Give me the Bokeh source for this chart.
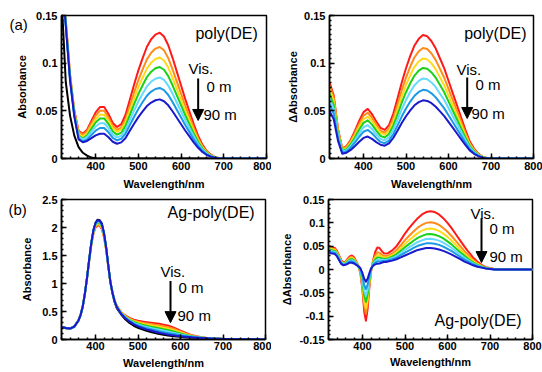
from bokeh.plotting import figure
from bokeh.layouts import column, row
from bokeh.models import Range1d, FixedTicker, Label, Arrow, NormalHead
from bokeh.embed import file_html
from bokeh.resources import INLINE
import numpy as np

FONT = "Liberation Sans"
COLORS = ["#ff1a1a", "#ff8c1a", "#ffd91a", "#1ad11a", "#66d9ff", "#1a9ae6", "#1a1acc"]

# ---------------- data ----------------
X_TICKS = [400, 500, 600, 700, 800]
Y12_TICKS = [0, 0.05, 0.1, 0.15]
Y12_LABELS = ["0", "0.05", "0.1", "0.15"]
Y3_TICKS = [0, 0.5, 1, 1.5, 2, 2.5]
Y3_LABELS = ["0", "0.5", "1", "1.5", "2", "2.5"]
Y4_TICKS = [-0.15, -0.1, -0.05, 0, 0.05, 0.1, 0.15]
Y4_LABELS = ["-0.15", "-0.1", "-0.05", "0", "0.05", "0.1", "0.15"]

W12 = [320, 330, 340, 350, 360, 370, 380, 390, 400, 410, 420, 430, 440, 450, 460, 470, 480, 490, 500, 510,
       520, 530, 540, 550, 560, 570, 580, 590, 600, 610, 620, 630, 640, 650, 660, 670, 680, 690, 700, 750, 800]

# (a) left: poly(DE) absorbance, 0 m (red) -> 90 m (blue), black = reference
A1_BLACK = [0.170, 0.080, 0.045, 0.024, 0.012, 0.006, 0.003, 0.001] + [0] * 33
A1_RED = [0.200, 0.145, 0.088, 0.050, 0.029, 0.026, 0.0302, 0.0394, 0.0484, 0.054, 0.054, 0.0467, 0.0372, 0.033,
          0.036, 0.0459, 0.0617, 0.0776, 0.0924, 0.1053, 0.1172, 0.1251, 0.130, 0.132, 0.128, 0.1188, 0.1056,
          0.0911, 0.0766, 0.062, 0.0488, 0.0356, 0.0238, 0.0145, 0.0079, 0.004, 0.0013, 0.0004, 0, 0, 0]
A1_ORANGE = [0.200, 0.144, 0.087, 0.049, 0.028, 0.025, 0.0288, 0.037, 0.045, 0.050, 0.050, 0.043, 0.034, 0.030,
             0.0326, 0.0413, 0.0552, 0.0692, 0.0822, 0.0935, 0.104, 0.1109, 0.1153, 0.117, 0.1135, 0.1053, 0.0936,
             0.0807, 0.0679, 0.055, 0.0433, 0.0316, 0.0211, 0.0129, 0.007, 0.0035, 0.0012, 0.0004, 0, 0, 0]
A1_YELLOW = [0.200, 0.143, 0.086, 0.048, 0.026, 0.023, 0.0265, 0.034, 0.0414, 0.046, 0.046, 0.0397, 0.0316, 0.028,
             0.0303, 0.0381, 0.0506, 0.0631, 0.0748, 0.0849, 0.0943, 0.1005, 0.1044, 0.106, 0.1028, 0.0954, 0.0848,
             0.0731, 0.0615, 0.0498, 0.0392, 0.0286, 0.0191, 0.0117, 0.0064, 0.0032, 0.0011, 0.0003, 0, 0, 0]
A1_GREEN = [0.200, 0.142, 0.085, 0.047, 0.024, 0.021, 0.0242, 0.0311, 0.0378, 0.042, 0.042, 0.0361, 0.0284, 0.025,
            0.0271, 0.0342, 0.0456, 0.057, 0.0676, 0.0768, 0.0854, 0.091, 0.0946, 0.096, 0.0931, 0.0864, 0.0768,
            0.0662, 0.0557, 0.0451, 0.0355, 0.0259, 0.0173, 0.0106, 0.0058, 0.0029, 0.001, 0.0003, 0, 0, 0]
A1_LCYAN = [0.200, 0.141, 0.084, 0.046, 0.023, 0.020, 0.0226, 0.0282, 0.0336, 0.037, 0.037, 0.0318, 0.025, 0.022,
            0.0239, 0.0302, 0.0403, 0.0504, 0.0598, 0.068, 0.0756, 0.0806, 0.0837, 0.085, 0.0825, 0.0765, 0.068,
            0.0587, 0.0493, 0.04, 0.0315, 0.023, 0.0153, 0.0094, 0.0051, 0.0026, 0.0009, 0.0003, 0, 0, 0]
A1_AZURE = [0.200, 0.140, 0.083, 0.045, 0.021, 0.018, 0.0201, 0.0247, 0.0292, 0.032, 0.032, 0.0275, 0.0216, 0.019,
            0.0207, 0.0262, 0.035, 0.0438, 0.052, 0.0592, 0.0658, 0.0702, 0.0729, 0.074, 0.0718, 0.0666, 0.0592,
            0.0511, 0.0429, 0.0348, 0.0274, 0.02, 0.0133, 0.0081, 0.0044, 0.0022, 0.0007, 0.0002, 0, 0, 0]
A1_BLUE = [0.200, 0.139, 0.082, 0.044, 0.020, 0.017, 0.0184, 0.0213, 0.0242, 0.026, 0.026, 0.0223, 0.0176, 0.0155,
           0.0169, 0.0215, 0.029, 0.0364, 0.0434, 0.0494, 0.055, 0.0587, 0.0611, 0.062, 0.0601, 0.0558, 0.0496,
           0.0428, 0.036, 0.0291, 0.0229, 0.0167, 0.0112, 0.0068, 0.0037, 0.0019, 0.0006, 0.0002, 0, 0, 0]

# (a) right: poly(DE) delta absorbance
A2_RED = [0.080, 0.066, 0.031, 0.0106, 0.0131, 0.0197, 0.0292, 0.0396, 0.0487, 0.052, 0.0465, 0.0388, 0.0322, 0.030,
          0.035, 0.0469, 0.0628, 0.0798, 0.0947, 0.1076, 0.1186, 0.1255, 0.1295, 0.1282, 0.123, 0.1153, 0.1049,
          0.0945, 0.0816, 0.0686, 0.0557, 0.0427, 0.0298, 0.0181, 0.0104, 0.0052, 0.0019, 0.0006, 0, 0, 0]
A2_ORANGE = [0.077, 0.0636, 0.0301, 0.010, 0.0123, 0.0184, 0.0271, 0.0366, 0.045, 0.048, 0.0428, 0.0354, 0.0291,
             0.027, 0.0315, 0.0421, 0.0564, 0.0715, 0.0849, 0.0964, 0.1062, 0.1124, 0.116, 0.1148, 0.1102, 0.1032,
             0.094, 0.0847, 0.0731, 0.0615, 0.0499, 0.0383, 0.0267, 0.0162, 0.0093, 0.0046, 0.0017, 0.0006, 0, 0, 0]
A2_YELLOW = [0.073, 0.0602, 0.0282, 0.009, 0.0111, 0.0167, 0.0248, 0.0335, 0.0412, 0.044, 0.0393, 0.0326, 0.0269,
             0.025, 0.029, 0.0386, 0.0514, 0.065, 0.077, 0.0874, 0.0962, 0.1018, 0.105, 0.104, 0.0998, 0.0935,
             0.0851, 0.0767, 0.0662, 0.0557, 0.0452, 0.0347, 0.0242, 0.0147, 0.0084, 0.0042, 0.0016, 0.0005, 0, 0, 0]
A2_GREEN = [0.068, 0.056, 0.026, 0.008, 0.0099, 0.015, 0.0224, 0.0304, 0.0374, 0.040, 0.0355, 0.0292, 0.0238, 0.022,
            0.0257, 0.0344, 0.0461, 0.0585, 0.0695, 0.0789, 0.087, 0.0921, 0.095, 0.0941, 0.0903, 0.0846, 0.077,
            0.0694, 0.0599, 0.0504, 0.0409, 0.0314, 0.0219, 0.0133, 0.0076, 0.0038, 0.0014, 0.0005, 0, 0, 0]
A2_LCYAN = [0.063, 0.0518, 0.0238, 0.007, 0.0087, 0.0132, 0.0196, 0.0266, 0.0328, 0.035, 0.031, 0.0254, 0.0206,
            0.019, 0.0223, 0.0301, 0.0405, 0.0515, 0.0613, 0.0697, 0.0769, 0.0814, 0.084, 0.0832, 0.0798, 0.0748,
            0.068, 0.0613, 0.0529, 0.0445, 0.0361, 0.0277, 0.0193, 0.0118, 0.0067, 0.0034, 0.0013, 0.0004, 0, 0, 0]
A2_AZURE = [0.057, 0.0468, 0.0213, 0.006, 0.0074, 0.0113, 0.0168, 0.0228, 0.0281, 0.030, 0.0265, 0.0216, 0.0174,
            0.016, 0.0188, 0.0255, 0.0345, 0.044, 0.0524, 0.0597, 0.0658, 0.0698, 0.072, 0.0713, 0.0684, 0.0641,
            0.0583, 0.0526, 0.0454, 0.0382, 0.031, 0.0238, 0.0166, 0.0101, 0.0058, 0.0029, 0.0011, 0.0004, 0, 0, 0]
A2_BLUE = [0.050, 0.041, 0.0185, 0.005, 0.0061, 0.009, 0.0131, 0.0176, 0.0216, 0.023, 0.0206, 0.0172, 0.0144,
           0.0134, 0.0158, 0.0215, 0.0291, 0.0372, 0.0443, 0.0505, 0.0558, 0.0591, 0.061, 0.0604, 0.058, 0.0543,
           0.0494, 0.0445, 0.0384, 0.0323, 0.0262, 0.0201, 0.014, 0.0085, 0.0049, 0.0024, 0.0009, 0.0003, 0, 0, 0]

# (b) left: Ag-poly(DE) absorbance
W3 = [320, 330, 340, 350, 360, 365, 370, 375, 380, 385, 390, 395, 400, 405, 410, 415, 420, 425, 430, 435, 440, 445,
      450, 460, 470, 480, 490, 500, 510, 520, 530, 540, 550, 560, 570, 580, 590, 600, 610, 620, 630, 640, 650,
      660, 670, 680, 690, 700, 750, 800]
B1_BLACK = [0.22, 0.20, 0.19, 0.225, 0.335, 0.435, 0.585, 0.815, 1.095, 1.415, 1.715, 1.945, 2.085, 2.14, 2.13, 2.07,
            1.90, 1.645, 1.32, 1.02, 0.82, 0.665, 0.56,
            0.45, 0.36, 0.295, 0.245, 0.21, 0.18, 0.155, 0.135, 0.115, 0.098, 0.085, 0.073, 0.063, 0.055, 0.048,
            0.042, 0.037, 0.032, 0.028, 0.024, 0.02, 0.017, 0.014, 0.012, 0.01, 0.005, 0.002]
B1_RED = [0.23, 0.21, 0.20, 0.235, 0.345, 0.445, 0.595, 0.82, 1.09, 1.40, 1.68, 1.89, 2.00, 2.04, 2.03, 1.97, 1.83,
          1.60, 1.31, 1.03, 0.84, 0.70, 0.60,
          0.49, 0.43, 0.385, 0.355, 0.335, 0.32, 0.31, 0.30, 0.29, 0.28, 0.265, 0.25, 0.225, 0.195, 0.16, 0.125,
          0.095, 0.07, 0.052, 0.04, 0.03, 0.023, 0.018, 0.014, 0.011, 0.005, 0.002]
B1_ORANGE = [0.229, 0.209, 0.199, 0.234, 0.344, 0.444, 0.594, 0.82, 1.092, 1.404, 1.688, 1.90, 2.015, 2.055, 2.045,
             1.985, 1.84, 1.61, 1.314, 1.03, 0.838, 0.697, 0.597,
             0.485, 0.42, 0.374, 0.341, 0.318, 0.30, 0.288, 0.276, 0.265, 0.253, 0.238, 0.223, 0.20, 0.173, 0.143,
             0.112, 0.086, 0.064, 0.049, 0.038, 0.029, 0.022, 0.0175, 0.0137, 0.0108, 0.005, 0.002]
B1_YELLOW = [0.228, 0.208, 0.198, 0.233, 0.343, 0.443, 0.593, 0.82, 1.094, 1.408, 1.696, 1.91, 2.03, 2.07, 2.06,
             2.00, 1.85, 1.62, 1.318, 1.03, 0.836, 0.693, 0.593,
             0.48, 0.4135, 0.3636, 0.327, 0.302, 0.282, 0.267, 0.254, 0.24, 0.227, 0.212, 0.197, 0.176, 0.153,
             0.126, 0.10, 0.078, 0.059, 0.045, 0.036, 0.027, 0.021, 0.017, 0.013, 0.0107, 0.005, 0.002]
B1_GREEN = [0.227, 0.207, 0.197, 0.232, 0.342, 0.442, 0.592, 0.82, 1.096, 1.412, 1.70, 1.925, 2.045, 2.09, 2.08,
            2.02, 1.865, 1.63, 1.322, 1.03, 0.834, 0.689, 0.589,
            0.475, 0.405, 0.3525, 0.3125, 0.285, 0.2625, 0.245, 0.23, 0.215, 0.20, 0.185, 0.17, 0.1515, 0.131,
            0.109, 0.0875, 0.069, 0.0535, 0.042, 0.0335, 0.026, 0.0205, 0.0165, 0.013, 0.0105, 0.005, 0.002]
B1_LCYAN = [0.226, 0.206, 0.196, 0.231, 0.341, 0.441, 0.591, 0.82, 1.098, 1.416, 1.71, 1.935, 2.06, 2.105, 2.095,
            2.035, 1.875, 1.635, 1.326, 1.03, 0.832, 0.686, 0.586,
            0.47, 0.3965, 0.3415, 0.298, 0.268, 0.243, 0.223, 0.206, 0.1895, 0.173, 0.158, 0.143, 0.1265, 0.109,
            0.0917, 0.0748, 0.0602, 0.0479, 0.0386, 0.0313, 0.0246, 0.0197, 0.016, 0.0127, 0.0103, 0.005, 0.002]
B1_AZURE = [0.2255, 0.2055, 0.1955, 0.2305, 0.3405, 0.4405, 0.5905, 0.82, 1.099, 1.418, 1.715, 1.942, 2.07, 2.118,
            2.108, 2.048, 1.888, 1.643, 1.328, 1.03, 0.831, 0.683, 0.583,
            0.465, 0.3885, 0.331, 0.2845, 0.252, 0.2245, 0.202, 0.184, 0.1655, 0.147, 0.132, 0.117, 0.103, 0.0888,
            0.0753, 0.0628, 0.0518, 0.0426, 0.0354, 0.0292, 0.0234, 0.0189, 0.0155, 0.0123, 0.0102, 0.005, 0.002]
B1_BLUE = [0.225, 0.205, 0.195, 0.23, 0.34, 0.44, 0.59, 0.82, 1.10, 1.42, 1.72, 1.95, 2.08, 2.13, 2.12, 2.06, 1.90,
           1.65, 1.33, 1.03, 0.83, 0.68, 0.58,
           0.46, 0.38, 0.32, 0.27, 0.235, 0.205, 0.18, 0.16, 0.14, 0.12, 0.105, 0.09, 0.078, 0.067, 0.058, 0.05,
           0.043, 0.037, 0.032, 0.027, 0.022, 0.018, 0.015, 0.012, 0.01, 0.005, 0.002]

# (b) right: Ag-poly(DE) delta absorbance
W4 = [320, 325, 330, 335, 340, 345, 350, 355, 360, 365, 370, 375, 380, 385, 390, 395, 400, 404, 408, 412, 416, 420,
      425, 430, 435, 440, 445, 450, 455, 460, 470, 480, 490, 500, 510, 520, 530, 540, 550, 560, 570, 580, 590, 600,
      610, 620, 630, 640, 650, 660, 670, 680, 690, 700, 710, 720, 730, 750, 800]
B2_RED = [0.051, 0.049, 0.047, 0.046, 0.040, 0.030, 0.020, 0.0146, 0.017, 0.023, 0.028, 0.030, 0.026, 0.018, 0.008,
          -0.008, -0.045, -0.090, -0.110, -0.085, -0.040, -0.005,
          0.020, 0.038, 0.047, 0.046, 0.040, 0.035, 0.034, 0.035,
          0.041, 0.050, 0.063, 0.077, 0.089, 0.100, 0.110, 0.118, 0.123, 0.125,
          0.123, 0.118, 0.110, 0.100, 0.088, 0.075, 0.062, 0.049, 0.037, 0.026,
          0.017, 0.010, 0.005, 0.003, 0.001, 0.0005, 0.0, 0, 0]
B2_ORANGE = [0.0485, 0.0465, 0.0447, 0.0437, 0.0378, 0.0282, 0.0186, 0.0136, 0.0157, 0.021, 0.0256, 0.0272, 0.0237,
             0.0166, 0.0078, -0.006, -0.0383, -0.0774, -0.0949, -0.0733, -0.0342, -0.0037,
             0.0178, 0.0299, 0.0367, 0.0361, 0.0324, 0.0293, 0.0286, 0.0296,
             0.0344, 0.0416, 0.0519, 0.0629, 0.0725, 0.0814, 0.0896, 0.0958, 0.0999, 0.1013,
             0.0996, 0.0955, 0.089, 0.0808, 0.0712, 0.0606, 0.050, 0.0394, 0.0298, 0.0209,
             0.0137, 0.0082, 0.0041, 0.0024, 0.0007, 0.0004, 0, 0, 0]
B2_YELLOW = [0.0465, 0.0445, 0.0428, 0.0418, 0.0362, 0.0268, 0.0174, 0.0128, 0.0148, 0.0195, 0.0237, 0.0251, 0.0218,
             0.0154, 0.0077, -0.0045, -0.0332, -0.0676, -0.0831, -0.0642, -0.0298, -0.0028,
             0.0162, 0.0253, 0.0308, 0.0305, 0.028, 0.0261, 0.0255, 0.0265,
             0.0307, 0.0368, 0.0456, 0.0549, 0.0632, 0.0709, 0.078, 0.0832, 0.0868, 0.0879,
             0.0863, 0.0828, 0.0771, 0.0699, 0.0617, 0.0524, 0.0432, 0.034, 0.0257, 0.018,
             0.0118, 0.0072, 0.0036, 0.0021, 0.0005, 0.0003, 0, 0, 0]
B2_GREEN = [0.0443, 0.0423, 0.0408, 0.0398, 0.0342, 0.0252, 0.0162, 0.0119, 0.0136, 0.0177, 0.0215, 0.0226, 0.0198,
            0.0142, 0.0075, -0.0027, -0.0272, -0.0564, -0.0697, -0.0538, -0.0246, -0.0016,
            0.0142, 0.0213, 0.0256, 0.0255, 0.0242, 0.0232, 0.0228, 0.0238,
            0.0274, 0.0326, 0.0401, 0.0479, 0.0549, 0.0616, 0.0678, 0.0721, 0.0753, 0.076,
            0.0746, 0.0715, 0.0666, 0.0603, 0.0533, 0.0452, 0.0372, 0.0292, 0.0221, 0.0155,
            0.0102, 0.0063, 0.0031, 0.0018, 0.0004, 0.0002, 0, 0, 0]
B2_LCYAN = [0.042, 0.040, 0.0387, 0.0377, 0.0323, 0.0236, 0.0149, 0.011, 0.0125, 0.016, 0.0194, 0.0201, 0.0177,
            0.0129, 0.0074, -0.001, -0.0213, -0.0452, -0.0562, -0.0434, -0.0195, -0.0005,
            0.0123, 0.0178, 0.0211, 0.0213, 0.0209, 0.0208, 0.0205, 0.0215,
            0.0245, 0.029, 0.0353, 0.0418, 0.0478, 0.0535, 0.059, 0.0625, 0.0653, 0.0658,
            0.0645, 0.0618, 0.0575, 0.052, 0.046, 0.039, 0.032, 0.025, 0.019, 0.0133,
            0.0088, 0.0055, 0.0028, 0.0015, 0.0003, 0.0001, 0, 0, 0]
B2_AZURE = [0.0397, 0.0377, 0.0365, 0.0355, 0.0303, 0.0219, 0.0135, 0.0101, 0.0113, 0.0141, 0.0171, 0.0175, 0.0155,
            0.0115, 0.0072, 0.0009, -0.015, -0.0333, -0.042, -0.0324, -0.0141, 0.0007,
            0.0103, 0.0145, 0.017, 0.0173, 0.0178, 0.0185, 0.0183, 0.0193,
            0.0219, 0.0256, 0.0308, 0.0361, 0.0412, 0.0461, 0.0508, 0.0536, 0.056, 0.0563,
            0.0551, 0.0528, 0.0491, 0.0443, 0.0393, 0.0332, 0.0272, 0.0212, 0.0161, 0.0112,
            0.0074, 0.0048, 0.0024, 0.0013, 0.0001, 0.0, 0, 0, 0]
B2_BLUE = [0.037, 0.035, 0.034, 0.033, 0.028, 0.020, 0.012, 0.009, 0.010, 0.012, 0.0145, 0.0146, 0.013, 0.010, 0.007,
           0.003, -0.008, -0.020, -0.026, -0.020, -0.008, 0.002,
           0.008, 0.011, 0.0125, 0.013, 0.0145, 0.016, 0.016, 0.017,
           0.019, 0.022, 0.026, 0.030, 0.034, 0.038, 0.042, 0.044, 0.046, 0.046,
           0.045, 0.043, 0.040, 0.036, 0.032, 0.027, 0.022, 0.017, 0.013, 0.009,
           0.006, 0.004, 0.002, 0.001, 0.0, 0.0, 0.0, 0, 0]


# ---------------- helpers ----------------
def make_fig(height, ml, mr, mt, mb, y_rng, yticks, ylabels, yminor_step, ylabel,
             ylab_standoff, xlab_standoff, xtick_standoff):
    p = figure(width=271, height=height, x_range=Range1d(320, 800), y_range=Range1d(*y_rng),
               output_backend="svg", toolbar_location=None,
               min_border_left=ml, min_border_right=mr, min_border_top=mt, min_border_bottom=mb)
    p.xgrid.visible = False
    p.ygrid.visible = False
    p.outline_line_color = "black"
    p.outline_line_width = 1.5
    p.background_fill_color = "white"
    p.border_fill_color = "white"
    xa, ya = p.xaxis[0], p.yaxis[0]
    xa.ticker = FixedTicker(ticks=X_TICKS, minor_ticks=list(np.arange(320, 801, 20)))
    ya.ticker = FixedTicker(ticks=yticks,
                            minor_ticks=list(np.round(np.arange(y_rng[0], y_rng[1] + 1e-9, yminor_step), 6)))
    ya.major_label_overrides = dict(zip(yticks, ylabels))
    xa.axis_label = "Wavelength/nm"
    ya.axis_label = ylabel
    for ax in (xa, ya):
        ax.axis_line_width = 1.5
        ax.axis_line_color = "black"
        ax.major_tick_in = 5
        ax.major_tick_out = 0
        ax.minor_tick_in = 2
        ax.minor_tick_out = 0
        ax.major_tick_line_width = 1.5
        ax.minor_tick_line_width = 1.5
        ax.major_tick_line_color = "black"
        ax.minor_tick_line_color = "black"
        ax.major_label_text_font = FONT
        ax.major_label_text_font_size = "11px"
        ax.major_label_text_font_style = "bold"
        ax.major_label_text_color = "black"
        ax.axis_label_text_font = FONT
        ax.axis_label_text_font_size = "11px"
        ax.axis_label_text_font_style = "bold"
        ax.axis_label_text_color = "black"
    ya.major_label_standoff = 4
    ya.axis_label_standoff = ylab_standoff
    xa.major_label_standoff = xtick_standoff
    xa.axis_label_standoff = xlab_standoff
    return p


def add_text(p, x, y, text, size):
    p.add_layout(Label(x=x, y=y, text=text, text_font=FONT, text_font_size=size,
                       text_baseline="middle", text_align="left", text_color="black"))


def set_panel_tag(p, text, offset, standoff):
    # panel tag drawn through the (otherwise empty) title, pulled beside the frame's top-left corner
    p.title.text = text
    p.title.align = "left"
    p.title.vertical_align = "bottom"
    p.title.offset = offset
    p.title.standoff = standoff
    p.title.text_font = FONT
    p.title.text_font_size = "15px"
    p.title.text_font_style = "normal"
    p.title.text_color = "black"


def add_arrow(p, x, y0, y1):
    p.add_layout(Arrow(end=NormalHead(size=11, fill_color="black", line_color="black", line_width=1),
                       x_start=x, y_start=y0, x_end=x, y_end=y1, line_width=2, line_color="black"))


def add_annotations(p, title_xy, title, vis_xy, m0_xy, m90_xy, arrow_xy):
    add_text(p, title_xy[0], title_xy[1], title, "16px")
    add_text(p, vis_xy[0], vis_xy[1], "Vis.", "15px")
    add_text(p, m0_xy[0], m0_xy[1], "0 m", "15px")
    add_text(p, m90_xy[0], m90_xy[1], "90 m", "15px")
    add_arrow(p, *arrow_xy)


# ---------------- panel (a) left ----------------
p1 = make_fig(192, 61, 5, 15, 34, (0, 0.15), Y12_TICKS, Y12_LABELS, 0.005, "Absorbance", 5, 5, 3)
p1.line(W12, A1_BLACK, line_color="black", line_width=2)
for ys, c in zip([A1_RED, A1_ORANGE, A1_YELLOW, A1_GREEN, A1_LCYAN, A1_AZURE, A1_BLUE], COLORS):
    p1.line(W12, ys, line_color=c, line_width=2, line_join="round")
add_annotations(p1, (633.7, 0.1311), "poly(DE)", (617.4, 0.0944), (659.5, 0.0755), (652.5, 0.0462),
                (640, 0.0839, 0.0399))
set_panel_tag(p1, "(a)", -52, -35)

# ---------------- panel (a) right ----------------
p2 = make_fig(192, 58, 9, 15, 34, (0, 0.15), Y12_TICKS, Y12_LABELS, 0.005, "ΔAbsorbance", 2, 5, 3)
for ys, c in zip([A2_RED, A2_ORANGE, A2_YELLOW, A2_GREEN, A2_LCYAN, A2_AZURE, A2_BLUE], COLORS):
    p2.line(W12, ys, line_color=c, line_width=2, line_join="round")
add_annotations(p2, (637, 0.131), "poly(DE)", (618.8, 0.0934), (663.5, 0.0776), (654, 0.0472),
                (644, 0.085, 0.042))

# ---------------- panel (b) left ----------------
p3 = make_fig(180, 61, 6, 6, 33, (0, 2.5), Y3_TICKS, Y3_LABELS, 0.1, "Absorbance", 6, 4, 2)
p3.line(W3, B1_BLACK, line_color="black", line_width=2)
for ys, c in zip([B1_RED, B1_ORANGE, B1_YELLOW, B1_GREEN, B1_LCYAN, B1_AZURE, B1_BLUE], COLORS):
    p3.line(W3, ys, line_color=c, line_width=2, line_join="round")
add_annotations(p3, (569.4, 2.27), "Ag-poly(DE)", (553, 1.206), (595.3, 0.922), (593, 0.4255),
                (576.5, 1.046, 0.301))
set_panel_tag(p3, "(b)", -53, -37)

# ---------------- panel (b) right ----------------
p4 = make_fig(180, 57, 10, 7, 31, (-0.15, 0.15), Y4_TICKS, Y4_LABELS, 0.01, "ΔAbsorbance", 3, 3, 2)
for ys, c in zip([B2_RED, B2_ORANGE, B2_YELLOW, B2_GREEN, B2_LCYAN, B2_AZURE, B2_BLUE], COLORS):
    p4.line(W4, ys, line_color=c, line_width=2, line_join="round")
add_annotations(p4, (569.4, -0.1099), "Ag-poly(DE)", (654, 0.1204), (698.8, 0.0887), (698.8, 0.0275),
                (680, 0.1099, 0.0148))

layout = column(row(p1, p2), row(p3, p4))
open("out.html", "w").write(file_html(layout, INLINE))
